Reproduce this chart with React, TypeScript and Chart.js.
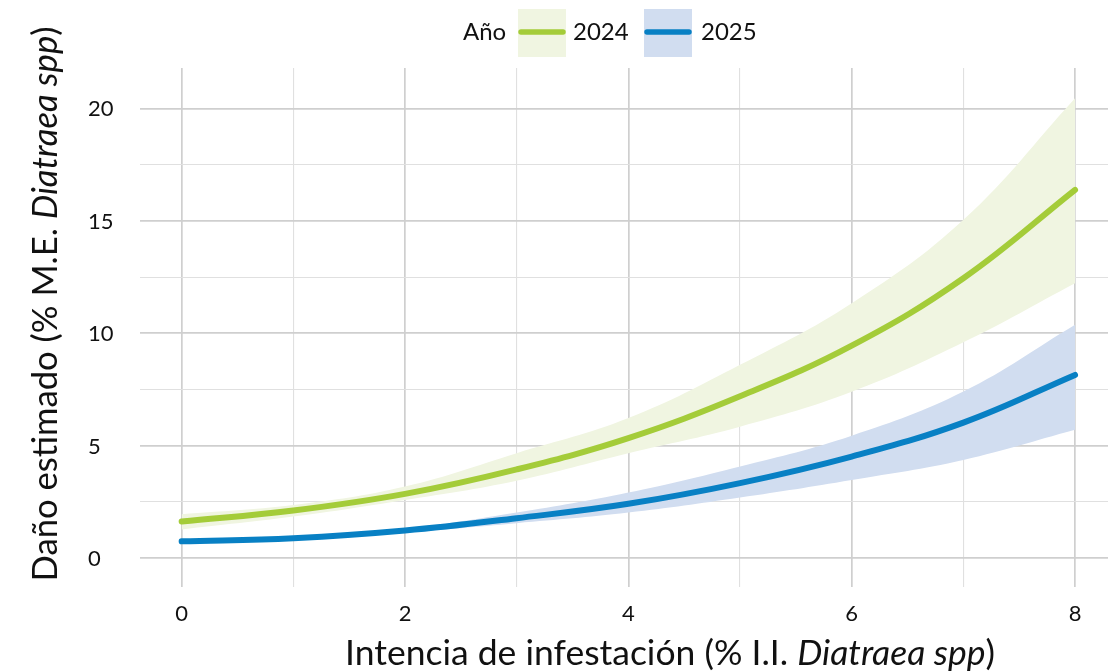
import React, { useEffect, useRef } from "react";
import { Chart, registerables } from "chart.js";

Chart.register(...registerables);

const xValues = [0, 1, 2, 3, 4, 5, 6, 7, 8];
const fit2024 = [1.63, 2.12, 2.86, 3.95, 5.34, 7.2, 9.45, 12.45, 16.38];
const low2024 = [1.28, 1.85, 2.59, 3.45, 4.67, 5.85, 7.4, 9.6, 12.23];
const high2024 = [1.96, 2.37, 3.19, 4.67, 6.23, 8.6, 11.34, 15.05, 20.46];
const fit2025 = [0.75, 0.89, 1.23, 1.78, 2.42, 3.34, 4.52, 6.03, 8.15];
const low2025 = [0.72, 0.84, 1.15, 1.56, 2.03, 2.7, 3.48, 4.37, 5.71];
const high2025 = [0.78, 0.94, 1.32, 2.03, 2.92, 4.08, 5.45, 7.41, 10.38];

const xTicks = [0, 1, 2, 3, 4, 5, 6, 7, 8];
const xTickLabels = ["0", "2", "4", "6", "8"];
const yTicks = [0, 2.5, 5, 7.5, 10, 12.5, 15, 17.5, 20];
const yTickLabels = ["0", "5", "10", "15", "20"];
const legendTitle = "Año";
const seriesNames = ["2024", "2025"];
const xTitle = [
  { t: "Intencia de infestación (% I.I. ", i: false },
  { t: "Diatraea spp", i: true },
  { t: ")", i: false },
];
const yTitle = [
  { t: "Daño estimado (% M.E. ", i: false },
  { t: "Diatraea spp", i: true },
  { t: ")", i: false },
];

const GREEN = "#a4cc39";
const BLUE = "#0880c4";
const GREEN_FILL = "#f0f5e1";
const BLUE_FILL = "#d1ddf0";
const FONT = "Lato";

const pts = (ys: number[]) => xValues.map((x, i) => ({ x, y: ys[i] }));

function drawSegments(ctx: CanvasRenderingContext2D, segs: { t: string; i: boolean }[], cx: number, cy: number, targetW: number, baseSize: number) {
  const measure = (size: number) => {
    let w = 0;
    for (const s of segs) {
      ctx.font = `${s.i ? "italic " : ""}${size}px ${FONT}`;
      w += ctx.measureText(s.t).width;
    }
    return w;
  };
  const w0 = measure(baseSize);
  const size = baseSize * (targetW / w0);
  const total = measure(size);
  let x = cx - total / 2;
  ctx.textAlign = "left";
  ctx.textBaseline = "alphabetic";
  for (const s of segs) {
    ctx.font = `${s.i ? "italic " : ""}${size}px ${FONT}`;
    ctx.fillText(s.t, x, cy);
    x += ctx.measureText(s.t).width;
  }
}

const textPlugin = {
  id: "textPlugin",
  afterDraw(chart: any) {
    const ctx = chart.ctx as CanvasRenderingContext2D;
    const xs = chart.scales.x;
    const ys = chart.scales.y;
    ctx.save();
    ctx.fillStyle = "#111";
    ctx.font = `22px ${FONT}`;
    ctx.textAlign = "left";
    ctx.textBaseline = "alphabetic";
    yTickLabels.forEach((lab) => {
      const py = ys.getPixelForValue(Number(lab));
      ctx.fillText(lab, 88, py + 8);
    });
    ctx.textAlign = "center";
    xTickLabels.forEach((lab) => {
      const px = xs.getPixelForValue(Number(lab));
      ctx.fillText(lab, px, 621);
    });
    drawSegments(ctx, xTitle, 670, 665, 650, 30);
    ctx.save();
    ctx.translate(57, 304);
    ctx.rotate(-Math.PI / 2);
    drawSegments(ctx, yTitle, 0, 0, 555, 30);
    ctx.restore();
    ctx.font = `24px ${FONT}`;
    ctx.textAlign = "left";
    ctx.fillText(legendTitle, 463, 40);
    const keys = [
      { x: 518, fill: GREEN_FILL, line: GREEN, tx: 573 },
      { x: 644, fill: BLUE_FILL, line: BLUE, tx: 701 },
    ];
    keys.forEach((k, i) => {
      ctx.fillStyle = k.fill;
      ctx.fillRect(k.x, 9, 48, 48);
      ctx.strokeStyle = k.line;
      ctx.lineWidth = 5.5;
      ctx.lineCap = "round";
      ctx.beginPath();
      ctx.moveTo(k.x + 3, 32);
      ctx.lineTo(k.x + 45, 32);
      ctx.stroke();
      ctx.fillStyle = "#111";
      ctx.fillText(seriesNames[i], k.tx, 40);
    });
    ctx.restore();
  },
};

export default function App() {
  const ref = useRef<HTMLCanvasElement>(null);
  useEffect(() => {
    document.body.style.margin = "0";
    const canvas = ref.current!;
    const lineDs = (label: string, ys: number[], color: string, order: number) => ({
      label,
      data: pts(ys),
      borderColor: color,
      borderWidth: 6,
      borderCapStyle: "round",
      borderJoinStyle: "round",
      pointRadius: 0,
      fill: false,
      order,
      tension: 0.4,
    });
    const bandDs = (label: string, ys: number[], color: string, fill: any, order: number) => ({
      label,
      data: pts(ys),
      borderColor: "rgba(0,0,0,0)",
      borderWidth: 0,
      backgroundColor: color,
      pointRadius: 0,
      fill,
      order,
      tension: 0.4,
    });
    const chart = new Chart(canvas, {
      type: "line",
      data: {
        datasets: [
          bandDs("low2024", low2024, GREEN_FILL, false, 10),
          bandDs("high2024", high2024, GREEN_FILL, "-1", 10),
          bandDs("low2025", low2025, BLUE_FILL, false, 9),
          bandDs("high2025", high2025, BLUE_FILL, "-1", 9),
          lineDs("2024", fit2024, GREEN, 2),
          lineDs("2025", fit2025, BLUE, 1),
        ] as any,
      },
      options: {
        animation: false,
        responsive: false,
        devicePixelRatio: 1,
        layout: { padding: { left: 140, top: 68, right: 0, bottom: 84 } },
        plugins: { legend: { display: false }, tooltip: { enabled: false }, filler: { drawTime: "beforeDatasetsDraw" } },
        scales: {
          x: {
            type: "linear",
            min: -0.373,
            max: 8.295,
            afterBuildTicks: (s: any) => {
              s.ticks = xTicks.map((v) => ({ value: v }));
            },
            ticks: { display: false },
            border: { display: false },
            grid: {
              drawTicks: false,
              tickLength: 0,
              color: (c: any) => (c.tick && c.tick.value % 2 === 0 ? "#cfcfcf" : "#e0e0e0"),
              lineWidth: (c: any) => (c.tick && c.tick.value % 2 === 0 ? 1.7 : 1.1),
            },
          },
          y: {
            type: "linear",
            min: -1.28,
            max: 21.8,
            afterBuildTicks: (s: any) => {
              s.ticks = yTicks.map((v) => ({ value: v }));
            },
            ticks: { display: false },
            border: { display: false },
            grid: {
              drawTicks: false,
              tickLength: 0,
              color: (c: any) => (c.tick && c.tick.value % 5 === 0 ? "#cfcfcf" : "#e0e0e0"),
              lineWidth: (c: any) => (c.tick && c.tick.value % 5 === 0 ? 1.7 : 1.1),
            },
          },
        },
      } as any,
      plugins: [textPlugin],
    });
    return () => chart.destroy();
  }, []);
  return <canvas ref={ref} width={1108} height={671} style={{ display: "block" }} />;
}
